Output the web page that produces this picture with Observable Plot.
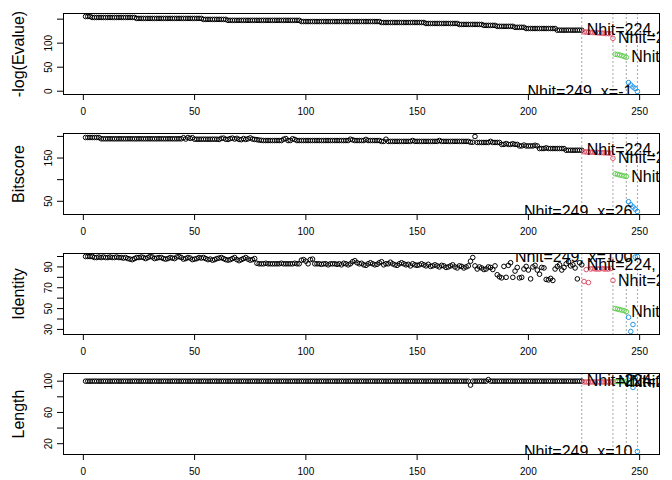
<!DOCTYPE html>
<html><head><meta charset="utf-8">
<script src="https://cdn.jsdelivr.net/npm/d3@7"></script>
<script src="https://cdn.jsdelivr.net/npm/@observablehq/plot@0.6"></script>
<style>body{margin:0;background:#fff;} #chart svg{display:block;}</style>
</head><body><div id="chart"></div>
<script>
// -log(Evalue), hits 1..249
const evalue = [
155.5,155.5,155.5,153.5,153.5,153.5,153.5,153.5,153.5,153.5,
153.5,153.5,153.5,153.5,153.5,153.5,153.5,153.5,153.5,153.5,
153.5,153.5,153.5,151.5,151.5,151.5,151.5,151.5,151.5,151.5,
151.5,151.5,151.5,151.5,151.5,151.5,151.5,151.5,151.5,151.5,
151.5,151.5,151.5,151.5,151.5,151.5,151.5,151.5,151.5,151.5,
151.5,151.5,151.5,149.5,149.5,149.5,149.5,149.5,149.5,149.5,
149.5,149.5,149.5,149.5,147.5,147.5,147.5,147.5,147.5,147.5,
147.5,147.5,147.5,147.5,147.5,147.5,147.5,147.5,147.5,147.5,
147.5,147.5,147.5,147.5,147.5,147.5,147.5,147.5,147.5,147.5,
147.5,147.5,147.5,147.5,147.5,147.5,147.5,145,145,145,
145,145,145,145,145,145,145,145,145,145,
145,145,145,145,145,145,145,145,145,145,
145,145,145,145,145,145,145,145,145,145,
145,145,145,143,143,143,143,143,143,143,
143,143,143,143,143,143,143,143,143,143,
143,143,143,141,141,141,141,141,141,141,
141,141,141,141,141,141,141,141,139,139,
139,139,139,139,139,139,139,139,139,137,
137,137,137,137,137,135,135,135,135,135,
135,135,135,133,133,133,133,133,130.5,130.5,
130.5,130.5,130.5,130.5,130.5,130.5,130.5,130.5,130.5,130.5,
130.5,130.5,127,127,127,127,127,127,127,127,
127,127,127,127,
123.5,123,123,122.5,122,122,121.5,121,121,120.5,120,120,119.5,110,
77,76,75.5,74,72.5,70.5,
18,13,8.7,5.6,-0.6
];
const bitscore = [
197.5,197.5,197.5,197.5,197.5,197.5,197.5,194.5,194.5,194.5,
194.5,194.5,194.5,194.5,194.5,194.5,194.5,194.5,194.5,194.5,
194.5,194.5,194.5,194.5,194.5,194.5,194.5,194.5,194.5,194.5,
194.5,194.5,194.5,194.5,194.5,194.5,194.5,194.5,194.5,194.5,
194.5,194.5,194.5,194.5,197,194,197.5,195.5,197,193.5,
193.5,193.5,193.5,193.5,193.5,193.5,193.5,193.5,193.5,193.5,
193,195.5,196,193.5,193,195,196,194,195.5,193,
192.5,195,193,194.5,196.5,194,193,192.5,191.5,191,
190.5,190.5,190.5,190.5,190.5,190.5,190.5,190.5,190.5,193.5,
195,190.5,190.5,194.5,193,190.5,190.5,190.5,190.5,190.5,
190.5,190.5,190.5,190.5,190.5,190.5,190.5,190.5,190.5,190.5,
190.5,190.5,190.5,190.5,190.5,190.5,190.5,190.5,190.5,193.5,
192,190.5,190.5,190.5,190.5,190.5,193,190.5,190.5,190.5,
190.5,190.5,190.5,188.5,188.5,193.5,188.5,188.5,188.5,188.5,
188.5,188.5,188.5,188.5,188.5,188.5,188.5,190.5,188.5,188.5,
188.5,188.5,188.5,188.5,188.5,188.5,188.5,188.5,188.5,190.5,
188.5,188.5,188.5,188.5,188.5,188.5,188.5,188.5,188.5,188.5,
188.5,188.5,188.5,186.5,186.5,199.8,186,186,186,186,
186,186,188.5,186,186,186,186,181.5,181.5,183.5,
181.5,181.5,183,181.5,181.5,178,178,180,178,178,
178,178,179.5,178,172,172,172,173.5,172,172,
172,172,172,172,172,172,168,168,168,168,
168,168,168,168,
164.5,164,164,163.5,163.5,163,163,162.5,162.5,162,162,161.5,161,149.5,
113.5,112.5,111,110,108.5,107.5,
49,42,37,32,26.4
];
const identity = [
100,100,100,100,99,99,99.5,99,99.5,99,
99,99.5,99,99,99.5,99,99,98.5,99,98,
97.5,97,98,99,99,99.5,99,98,99,100,
99.5,98,98.5,99,99,98,97.5,98,99,98.5,
98,99.5,100,99,97.5,98,99,98.5,97,97.5,
98,99,98.5,99,98,97,97.5,96.5,97,98,
98.5,99,98,97,96.5,97,98,99,97,96,
97,98,99,97.5,96.5,97,98,93.5,93,93,
93,93.5,93,93,93,93,93,93,93.5,93,
93,93,93,93,93.5,93,93,96.5,97,95.5,
93,97,97.5,93,93,93,92.5,93,93,92,
93,93,93,92.5,93,92,93.5,93,92,93,
95,96,94,93,93.5,92,91.5,93,94,93,
92,92.5,94,95,92,93,93,94.5,93,92,
91.5,93,94,93,92,92.5,91,93,92,91.5,
92,93,92,91,92.5,90.5,91,92,91,90,
91.5,91,89.5,90,91,92,90,89,91,90.5,
89,90,91,95.5,99,91,88,90,89,87.5,
88,90,89.5,87.5,91,82.5,80.5,79.5,90.5,80,
91.5,94,80,86,89.5,79.5,80,88,90.5,87,
78.5,90,91.5,87,83,89.5,89,78,77.5,79,
77,88,90.5,92,87,89.5,93,95,91,92,
89,78.5,94,92,
76,87.5,75,88,88.5,88,88,88,88.5,88,88,88,88.5,77,
50,49.5,49,48.5,48,47,
41.7,28,34.7,99.5,100
];
const lengths = [
100,100,100,100,100,100,100,100,100,100,
100,100,100,100,100,100,100,100,100,100,
100,100,100,100,100,100,100,100,100,100,
100,100,100,100,100,100,100,100,100,100,
100,100,100,100,100,100,100,100,100,100,
100,100,100,100,100,100,100,100,100,100,
100,100,100,100,100,100,100,100,100,100,
100,100,100,100,100,100,100,100,100,100,
100,100,100,100,100,100,100,100,100,100,
100,100,100,100,100,100,100,100,100,100,
100,100,100,100,100,100,100,100,100,100,
100,100,100,100,100,100,100,100,100,100,
100,100,100,100,100,100,100,100,100,100,
100,100,100,100,100,100,100,100,100,100,
100,100,100,100,100,100,100,100,100,100,
100,100,100,100,100,100,100,100,100,100,
100,100,100,100,100,100,100,100,100,100,
100,100,100,95,100,100,100,100,100,100,
100,102,100,100,100,100,100,100,100,100,
100,100,100,100,100,100,100,100,100,100,
100,100,100,100,100,100,100,100,100,100,
100,100,100,100,100,100,100,100,100,100,
100,100,100,100,
99,99,99,99,99,99,99,99,99,99,99,99,99,99,
99.5,99.5,99.5,99.5,99.5,99.5,
98,106,92,104,10
];
const groupEnds = [224, 238, 244, 249];
const groupColors = ["#000000", "#DF536B", "#61D04F", "#2297E6"];
const titles = ["-log(Evalue)", "Bitscore", "Identity", "Length"];
const xTicks = [0, 50, 100, 150, 200, 250];
const yTicks = [[0, 50, 100, 150], [50, 100, 150, 200], [30, 40, 50, 60, 70, 80, 90, 100], [20, 40, 60, 80, 100]];
const yTickLabels = [[0, 50, 100], [50, 150], [30, 50, 70, 90], [20, 60, 100]];
const series = [evalue, bitscore, identity, lengths];

const font = "'Liberation Sans', Arial, Helvetica, sans-serif";
function groupOf(i) { return groupEnds.findIndex(e => i <= e); }
function expand(vals) {
  const [lo, hi] = d3.extent(vals); const r = hi - lo;
  return [lo - 0.04 * r, hi + 0.04 * r];
}
const xDom = expand([1, 249]);

function panel(k) {
  const values = series[k];
  const data = values.map((v, i) => ({i: i + 1, v, g: groupOf(i + 1)}));
  const labs = groupEnds.map((n, j) => ({i: n, v: values[n - 1], text: `Nhit=${n}, x=${Math.round(values[n - 1])}`, last: j === 3}));
  return Plot.plot({
    width: 672, height: 120,
    marginLeft: 63, marginRight: 13, marginTop: 13, marginBottom: 26,
    x: {domain: xDom, axis: null},
    y: {domain: expand(values), axis: null},
    color: {domain: [0, 1, 2, 3], range: groupColors},
    style: {fontFamily: font, background: "white", color: "black"},
    marks: [
      Plot.ruleX(groupEnds, {stroke: "#A6A6A6", strokeDasharray: "2,2", strokeWidth: 1}),
      Plot.dot(data, {x: "i", y: "v", stroke: "g", r: 2.3, strokeWidth: 1, clip: true}),
      Plot.text(labs.filter(d => !d.last), {x: "i", y: "v", text: "text", textAnchor: "start", dx: 5, fontSize: 16, clip: true}),
      Plot.text(labs.filter(d => d.last), {x: "i", y: "v", text: "text", textAnchor: "end", dx: -5, fontSize: 16, clip: true}),
      Plot.frame({stroke: "black"}),
      Plot.axisX({ticks: xTicks, tickSize: 6, tickPadding: 7, fontSize: 10, label: null}),
      Plot.axisY({ticks: yTicks[k], tickSize: 6, tickFormat: () => "", label: null}),
      Plot.text(yTickLabels[k], {y: d => d, text: d => String(d), frameAnchor: "left", textAnchor: "middle", dx: -15, rotate: -90, fontSize: 10}),
      Plot.text([titles[k]], {frameAnchor: "left", textAnchor: "middle", dx: -45, rotate: -90, fontSize: 16})
    ]
  });
}
const root = document.getElementById("chart");
for (let k = 0; k < 4; k++) root.appendChild(panel(k));
</script>
</body></html>
